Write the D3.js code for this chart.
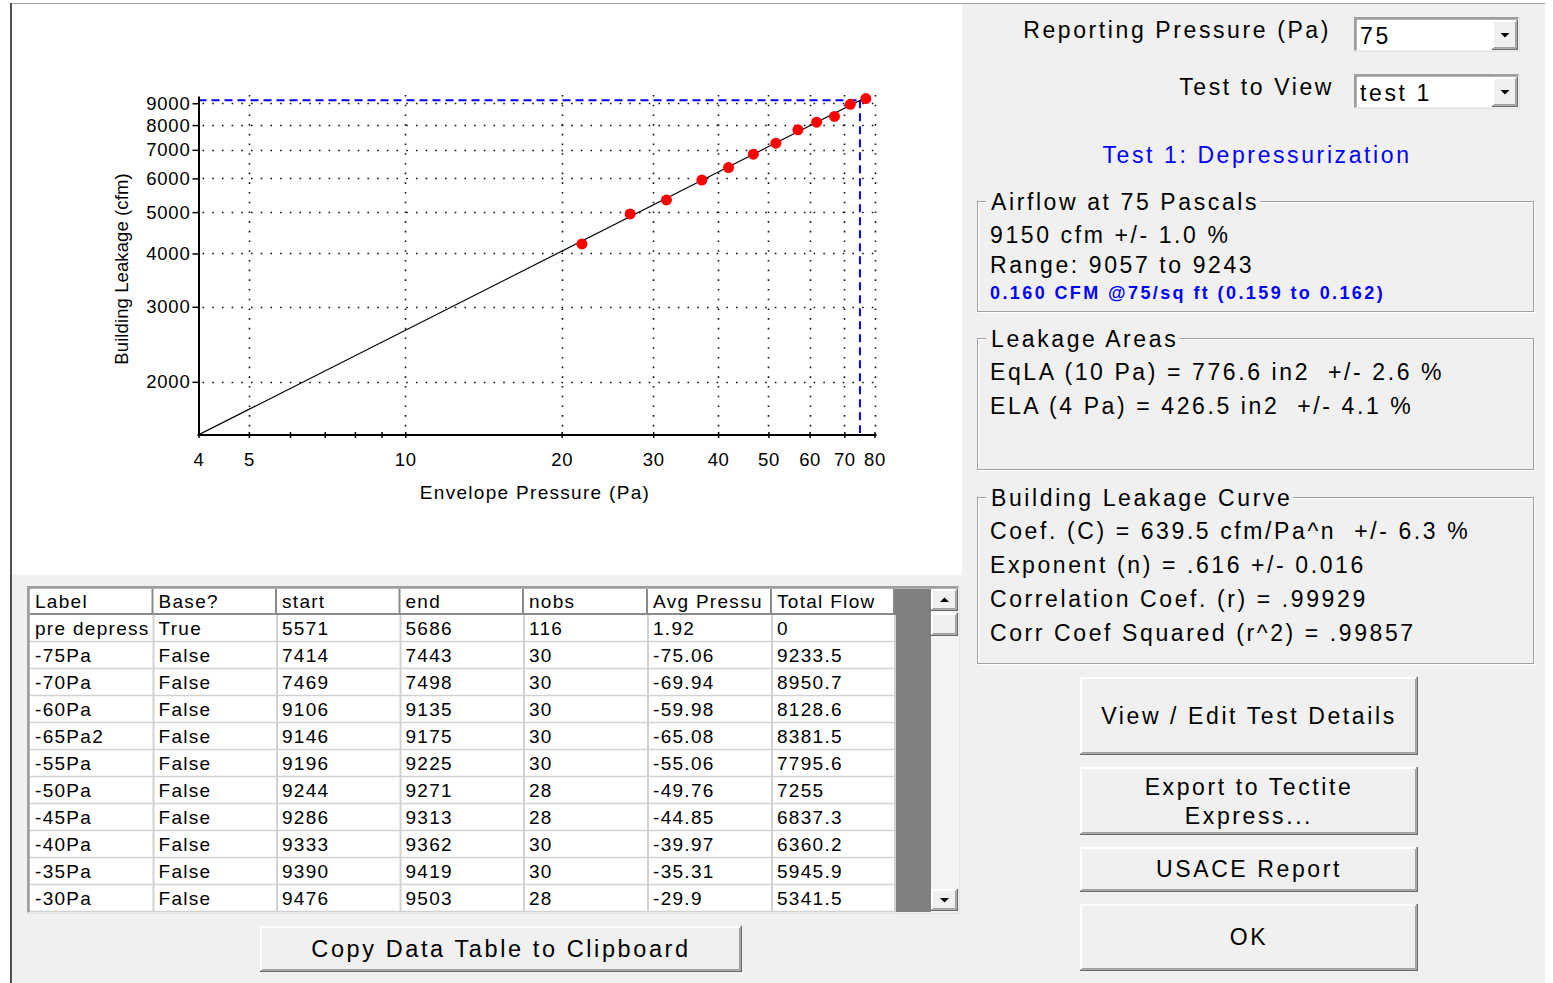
<!DOCTYPE html>
<html>
<head>
<meta charset="utf-8">
<script src="https://cdn.jsdelivr.net/npm/d3@7"></script>
<style>
  body { margin: 0; background: #fff; overflow: hidden; }
  text { white-space: pre; }
</style>
</head>
<body>
<div id="app"></div>
<script>
// ---- data ----
var tableColumns   = ["Label", "Base?", "start", "end", "nobs", "Avg Pressu", "Total Flow"];
var rowLabels      = ["pre depress", "-75Pa", "-70Pa", "-60Pa", "-65Pa2", "-55Pa", "-50Pa", "-45Pa", "-40Pa", "-35Pa", "-30Pa", "-25Pa", "-20Pa"];
var rowBase        = [true, false, false, false, false, false, false, false, false, false, false, false, false];
var rowStart       = [5571, 7414, 7469, 9106, 9146, 9196, 9244, 9286, 9333, 9390, 9476, null, null];
var rowEnd         = [5686, 7443, 7498, 9135, 9175, 9225, 9271, 9313, 9362, 9419, 9503, null, null];
var rowNobs        = [116, 30, 30, 30, 30, 30, 28, 28, 30, 30, 28, null, null];
var rowAvgPressure = [1.92, -75.06, -69.94, -59.98, -65.08, -55.06, -49.76, -44.85, -39.97, -35.31, -29.9, -25.17, -19.96];
var rowTotalFlow   = [0, 9233.5, 8950.7, 8128.6, 8381.5, 7795.6, 7255, 6837.3, 6360.2, 5945.9, 5341.5, 4951, 4212];
var visibleRows    = 11;   // the grid is scrolled, the last rows are hidden

var xDomain     = [4, 80];
var xTickValues = [4, 5, 6, 7, 8, 9, 10, 20, 30, 40, 50, 60, 70, 80];
var xTickLabels = [4, 5, 10, 20, 30, 40, 50, 60, 70, 80];
var xGridValues = [5, 10, 20, 30, 40, 50, 60, 70, 80];
var yDomain     = [1501, 9360];
var yTickValues = [2000, 3000, 4000, 5000, 6000, 7000, 8000, 9000];

var fitCoef = 639.5, fitExp = 0.616;
var reportPressure = 75, reportFlow = 9150;

var airflowLines = ["9150 cfm +/- 1.0 %", "Range: 9057 to 9243"];
var airflowNote  = "0.160 CFM @75/sq ft (0.159 to 0.162)";
var areaLines    = ["EqLA (10 Pa) = 776.6 in2  +/- 2.6 %", "ELA (4 Pa) = 426.5 in2  +/- 4.1 %"];
var curveLines   = ["Coef. (C) = 639.5 cfm/Pa^n  +/- 6.3 %", "Exponent (n) = .616 +/- 0.016",
                    "Correlation Coef. (r) = .99929", "Corr Coef Squared (r^2) = .99857"];

// ---- setup ----
var FONT = "'Liberation Sans', Arial, sans-serif";
var W = 1553, H = 983;
var svg = d3.select("#app").append("svg").attr("width", W).attr("height", H)
            .style("display", "block");

function label(g, str, px, py, o){
  o = o || {};
  return g.append("text")
    .attr("x", px).attr("y", py)
    .attr("font-family", FONT)
    .attr("font-size", o.size || 23)
    .attr("letter-spacing", o.ls == null ? 2.6 : o.ls)
    .attr("font-weight", o.bold ? "bold" : null)
    .attr("text-anchor", o.anchor || "start")
    .attr("fill", o.fill || "#000")
    .text(str);
}
function raised(g, x0, y0, w, h){
  g.append("rect").attr("x", x0).attr("y", y0).attr("width", w).attr("height", h).attr("fill", "#f0f0f0");
  g.append("path").attr("fill", "none").attr("stroke", "#fff").attr("stroke-width", 2)
    .attr("d", "M" + (x0 + 1) + "," + (y0 + h - 1) + "V" + (y0 + 1) + "H" + (x0 + w - 1));
  g.append("path").attr("fill", "none").attr("stroke", "#a0a0a0").attr("stroke-width", 1)
    .attr("d", "M" + (x0 + 2) + "," + (y0 + h - 2.5) + "H" + (x0 + w - 2.5) + "V" + (y0 + 2));
  g.append("path").attr("fill", "none").attr("stroke", "#696969").attr("stroke-width", 1.5)
    .attr("d", "M" + x0 + "," + (y0 + h - 0.75) + "H" + (x0 + w - 0.75) + "V" + y0);
}
function sunken(g, x0, y0, w, h, fill){
  g.append("rect").attr("x", x0).attr("y", y0).attr("width", w).attr("height", h).attr("fill", fill || "#fff");
  g.append("path").attr("fill", "none").attr("stroke", "#a0a0a0").attr("stroke-width", 1.5)
    .attr("d", "M" + (x0 + 0.75) + "," + (y0 + h) + "V" + (y0 + 0.75) + "H" + (x0 + w));
  g.append("path").attr("fill", "none").attr("stroke", "#696969").attr("stroke-width", 1)
    .attr("d", "M" + (x0 + 2) + "," + (y0 + h - 2) + "V" + (y0 + 2) + "H" + (x0 + w - 2));
  g.append("path").attr("fill", "none").attr("stroke", "#e3e3e3").attr("stroke-width", 1.5)
    .attr("d", "M" + x0 + "," + (y0 + h - 0.75) + "H" + (x0 + w - 0.75) + "V" + y0);
}
function arrow(g, cx, cy, up){
  var s = up ? -1 : 1;
  g.append("path").attr("fill", "#000")
    .attr("d", "M" + (cx - 4.5) + "," + (cy - 2 * s) + "L" + (cx + 4.5) + "," + (cy - 2 * s) + "L" + cx + "," + (cy + 2.5 * s) + "Z");
}

// ---- window background ----
svg.append("rect").attr("width", W).attr("height", H).attr("fill", "#fff");
svg.append("rect").attr("x", 11).attr("y", 3).attr("width", 1534).attr("height", H - 3).attr("fill", "#f0f0f0");
svg.append("rect").attr("x", 12).attr("y", 4).attr("width", 950).attr("height", 571).attr("fill", "#fff");
svg.append("line").attr("x1", 10).attr("x2", 1545).attr("y1", 3.5).attr("y2", 3.5).attr("stroke", "#a0a0a0");
svg.append("line").attr("x1", 11).attr("x2", 11).attr("y1", 3).attr("y2", H).attr("stroke", "#505050").attr("stroke-width", 2);

// ---- chart ----
var chart = svg.append("g");
var x = d3.scaleLog().domain(xDomain).range([198.5, 874.5]);
var y = d3.scaleLog().domain(yDomain).range([435, 96]);

chart.append("defs").append("clipPath").attr("id", "plotClip")
  .append("rect").attr("x", x.range()[0]).attr("y", y.range()[1])
  .attr("width", x.range()[1] - x.range()[0]).attr("height", y.range()[0] - y.range()[1]);

// dotted grid
chart.append("g").selectAll("line").data(yTickValues).join("line")
  .attr("x1", x.range()[0] + 4).attr("x2", x.range()[1] + 1)
  .attr("y1", function(d){ return Math.round(y(d)) + 0.5; })
  .attr("y2", function(d){ return Math.round(y(d)) + 0.5; })
  .attr("stroke", "#111").attr("stroke-width", 1.6).attr("stroke-dasharray", "1.6,8.1");
chart.append("g").selectAll("line").data(xGridValues).join("line")
  .attr("x1", function(d){ return Math.round(x(d)) + 0.5; })
  .attr("x2", function(d){ return Math.round(x(d)) + 0.5; })
  .attr("y1", y.range()[1] - 1).attr("y2", y.range()[0])
  .attr("stroke", "#111").attr("stroke-width", 1.6).attr("stroke-dasharray", "1.6,8.1");

// reporting pressure markers
var blueDash = chart.append("g").attr("stroke", "#0000ff").attr("stroke-width", 2)
  .attr("stroke-dasharray", "8,5").attr("fill", "none");
blueDash.append("line").attr("x1", x.range()[0]).attr("x2", x(reportPressure))
  .attr("y1", y(reportFlow)).attr("y2", y(reportFlow));
blueDash.append("line").attr("x1", x(reportPressure)).attr("x2", x(reportPressure))
  .attr("y1", y(reportFlow)).attr("y2", y.range()[0] - 2);

// fitted power law: Q = C * dP^n (a straight line on log-log axes)
var fitLine = d3.line()
  .x(function(p){ return x(p); })
  .y(function(p){ return y(fitCoef * Math.pow(p, fitExp)); });
chart.append("path").datum(xDomain)
  .attr("clip-path", "url(#plotClip)")
  .attr("d", fitLine).attr("fill", "none").attr("stroke", "#000").attr("stroke-width", 1.2);

// measured points, envelope pressure relative to the baseline reading
var baseIndex = rowBase.indexOf(true);
var points = rowAvgPressure.map(function(p, i){
  return { p: Math.abs(p - rowAvgPressure[baseIndex]), q: rowTotalFlow[i], base: rowBase[i] };
}).filter(function(d){ return !d.base; });
chart.append("g").selectAll("circle").data(points).join("circle")
  .attr("cx", function(d){ return x(d.p); })
  .attr("cy", function(d){ return y(d.q); })
  .attr("r", 5.5).attr("fill", "#ff0000");

// axes
var yAxis = d3.axisLeft(y).tickValues(yTickValues).tickFormat(d3.format("d"))
  .tickSizeInner(6).tickSizeOuter(0).tickPadding(2);
var gy = chart.append("g").attr("transform", "translate(" + x.range()[0] + ",0)").call(yAxis);
gy.select(".domain").attr("stroke", "#000").attr("stroke-width", 2);
gy.selectAll(".tick line").attr("stroke", "#000").attr("stroke-width", 1.5);
gy.selectAll(".tick text").attr("font-family", FONT).attr("font-size", 18.5)
  .attr("letter-spacing", 0.8).attr("fill", "#000");

var xAxis = d3.axisBottom(x).tickValues(xTickValues)
  .tickFormat(function(d){ return xTickLabels.indexOf(d) >= 0 ? d : ""; })
  .tickSizeInner(3).tickSizeOuter(0).tickPadding(15);
var gx = chart.append("g").attr("transform", "translate(0," + y.range()[0] + ")").call(xAxis);
gx.select(".domain").attr("stroke", "#000").attr("stroke-width", 2)
  .attr("d", "M" + (x.range()[0] - 1) + ",0H" + (x.range()[1] + 2));
gx.selectAll(".tick line").attr("stroke", "#000").attr("stroke-width", 1.5).attr("y1", -3).attr("y2", 3);
gx.selectAll(".tick text").attr("font-family", FONT).attr("font-size", 18.5)
  .attr("letter-spacing", 0.6).attr("fill", "#000");

label(chart, "Envelope Pressure (Pa)", 535, 499, { size: 19, ls: 1.3, anchor: "middle" });
label(chart, "Building Leakage (cfm)", 0, 0, { size: 18.5, ls: 0.1, anchor: "middle" })
  .attr("transform", "translate(128,269) rotate(-90)");

// ---- data grid ----
var grid = svg.append("g");
var colEdges = [30, 153.5, 277, 400.5, 524, 648, 772, 895];
var headTop = 589, headH = 26, rowH = 27;
var gridBottom = headTop + headH + visibleRows * rowH;

sunken(grid, 27, 586, 933, gridBottom - 586 + 2, "#fff");
grid.append("rect").attr("x", colEdges[7]).attr("y", headTop).attr("width", 36)
  .attr("height", gridBottom - headTop).attr("fill", "#808080");

// scrollbar
var sbX = 931, sbW = 27;
grid.append("rect").attr("x", sbX).attr("y", headTop).attr("width", sbW)
  .attr("height", gridBottom - headTop).attr("fill", "#f4f4f4");
raised(grid, sbX, headTop, sbW, 22);
arrow(grid, sbX + sbW / 2, headTop + 11, true);
raised(grid, sbX, headTop + 24, sbW, 23);
raised(grid, sbX, gridBottom - 23, sbW, 22);
arrow(grid, sbX + sbW / 2, gridBottom - 12, false);

// header
grid.append("rect").attr("x", colEdges[0]).attr("y", headTop)
  .attr("width", colEdges[7] - colEdges[0]).attr("height", headH).attr("fill", "#fff");
grid.append("line").attr("x1", colEdges[0]).attr("x2", colEdges[7])
  .attr("y1", headTop + headH - 1).attr("y2", headTop + headH - 1)
  .attr("stroke", "#8a8a8a").attr("stroke-width", 2);

// body lines
for (var r = 1; r <= visibleRows; r++){
  grid.append("line").attr("x1", colEdges[0]).attr("x2", colEdges[7])
    .attr("y1", headTop + headH + r * rowH - 0.5).attr("y2", headTop + headH + r * rowH - 0.5)
    .attr("stroke", "#d2d2d2").attr("stroke-width", 1.5);
}
colEdges.slice(1).forEach(function(cx){
  grid.append("line").attr("x1", cx).attr("x2", cx).attr("y1", headTop + headH).attr("y2", gridBottom)
    .attr("stroke", "#d2d2d2").attr("stroke-width", 2);
  grid.append("line").attr("x1", cx - 1).attr("x2", cx - 1).attr("y1", headTop).attr("y2", headTop + headH)
    .attr("stroke", "#8a8a8a").attr("stroke-width", 2);
});

var cellText = [
  function(i){ return rowLabels[i]; },
  function(i){ return rowBase[i] ? "True" : "False"; },
  function(i){ return rowStart[i] == null ? "" : String(rowStart[i]); },
  function(i){ return rowEnd[i] == null ? "" : String(rowEnd[i]); },
  function(i){ return rowNobs[i] == null ? "" : String(rowNobs[i]); },
  function(i){ return String(rowAvgPressure[i]); },
  function(i){ return String(rowTotalFlow[i]); }
];
var defs = svg.append("defs");
tableColumns.forEach(function(name, c){
  defs.append("clipPath").attr("id", "col" + c).append("rect")
    .attr("x", colEdges[c]).attr("y", headTop)
    .attr("width", colEdges[c + 1] - colEdges[c] - 2).attr("height", gridBottom - headTop);
  var cg = grid.append("g").attr("clip-path", "url(#col" + c + ")");
  label(cg, name, colEdges[c] + 5, headTop + 19, { size: 19, ls: 1.3 });
  for (var i = 0; i < visibleRows; i++){
    label(cg, cellText[c](i), colEdges[c] + 5, headTop + headH + i * rowH + 20, { size: 19, ls: 1.3 });
  }
});

// copy button
raised(svg, 260, 926, 482, 46);
label(svg, "Copy Data Table to Clipboard", 501, 957, { size: 23.5, ls: 2.6, anchor: "middle" });

// ---- right panel ----
var panel = svg.append("g");
label(panel, "Reporting Pressure (Pa)", 1331, 38, { anchor: "end" });
label(panel, "Test to View", 1334, 95, { anchor: "end" });

function combo(y0, val){
  sunken(panel, 1354, y0, 166, 35, "#fff");
  label(panel, val, 1360, y0 + 27);
  raised(panel, 1492, y0 + 3, 26, 30);
  arrow(panel, 1505, y0 + 18, false);
}
combo(17, String(reportPressure));
combo(74, "test 1");

label(panel, "Test 1: Depressurization", 1257, 163, { anchor: "middle", fill: "#0000ff" });

function groupBox(y0, y1, title){
  var x0 = 977.5, x1 = 1533.5;
  panel.append("rect").attr("x", x0 + 1).attr("y", y0 + 1).attr("width", x1 - x0).attr("height", y1 - y0)
    .attr("fill", "none").attr("stroke", "#fff");
  panel.append("rect").attr("x", x0).attr("y", y0).attr("width", x1 - x0).attr("height", y1 - y0)
    .attr("fill", "none").attr("stroke", "#a0a0a0");
  var bg = panel.append("rect").attr("fill", "#f0f0f0");
  var t = label(panel, title, 991, y0 + 8);
  var w = t.node().getComputedTextLength();
  bg.attr("x", 986).attr("y", y0 - 4).attr("width", w + 6).attr("height", 8);
}
groupBox(201.5, 311.5, "Airflow at " + reportPressure + " Pascals");
airflowLines.forEach(function(s, i){ label(panel, s, 990, 243 + i * 30); });
label(panel, airflowNote, 990, 299, { size: 18, ls: 2.4, bold: true, fill: "#0000ff" });

groupBox(338.5, 469.5, "Leakage Areas");
areaLines.forEach(function(s, i){ label(panel, s, 990, 380 + i * 34); });

groupBox(497.5, 663.5, "Building Leakage Curve");
curveLines.forEach(function(s, i){ label(panel, s, 990, 539 + i * 34); });

raised(panel, 1080, 677, 338, 78);
label(panel, "View / Edit Test Details", 1249, 724, { anchor: "middle" });
raised(panel, 1080, 767, 338, 68);
label(panel, "Export to Tectite", 1249, 795, { anchor: "middle" });
label(panel, "Express...", 1249, 824, { anchor: "middle" });
raised(panel, 1080, 847, 338, 45);
label(panel, "USACE Report", 1249, 877, { anchor: "middle" });
raised(panel, 1080, 904, 338, 67);
label(panel, "OK", 1249, 945, { anchor: "middle" });
</script>
</body>
</html>
